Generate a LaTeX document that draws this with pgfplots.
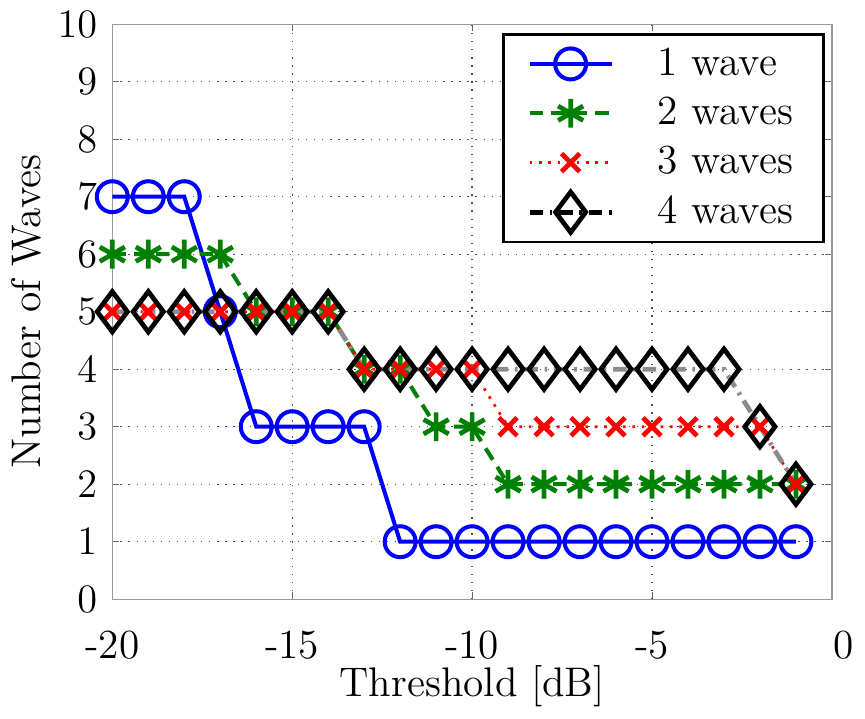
\documentclass[border=0pt]{standalone}
\usepackage{pgfplots}
\pgfplotsset{compat=1.18}
\definecolor{mygreen}{rgb}{0,0.5,0}
\begin{document}
\begin{tikzpicture}
\begin{axis}[
  scale only axis,
  width=214pt, height=171pt,
  xmin=-20, xmax=0, ymin=0, ymax=10,
  xtick={-20,-15,-10,-5,0},
  xticklabels={-20,-15,-10,-5,\hspace*{7pt}0},
  ytick={0,1,...,10},
  xlabel={Threshold [dB]},
  ylabel={Number of Waves},
  tick label style={font=\fontsize{12.3}{14.8}\selectfont},
  xticklabel style={yshift=-6pt},
  yticklabel style={xshift=-1pt},
  label style={font=\fontsize{12.3}{14.8}\selectfont},
  xlabel style={yshift=5pt},
  ylabel style={yshift=-2pt},
  tick align=inside,
  major tick length=2pt,
  axis line style={black!40},
  tick style={black!60},
  grid=major,
  major grid style={dotted, black!70},
  legend cell align=left,
  legend style={at={(rel axis cs:0.99,0.985)}, anchor=north east, draw=black, thick,
    font=\fontsize{12.3}{14.8}\selectfont, row sep=1pt, inner xsep=7pt, inner ysep=2pt},
  legend image code/.code={\draw[mark repeat=2,mark phase=2] plot coordinates {(0cm,0cm)(0.43cm,0cm)(0.86cm,0cm)};},
]
\addplot[blue, line width=1.2pt, mark=o, mark size=4.6pt, mark options={solid, line width=1.2pt}] coordinates {
(-20,7)(-19,7)(-18,7)(-17,5)(-16,3)(-15,3)(-14,3)(-13,3)(-12,1)(-11,1)(-10,1)(-9,1)(-8,1)(-7,1)(-6,1)(-5,1)(-4,1)(-3,1)(-2,1)(-1,1)};
\addlegendentry{\hspace{11pt}1 wave\hspace{9pt}}
\addplot[mygreen, line width=1.2pt, dash pattern=on 4pt off 2.5pt, mark=asterisk, mark size=4.3pt, mark options={solid, line width=1.4pt}] coordinates {
(-20,6)(-19,6)(-18,6)(-17,6)(-16,5)(-15,5)(-14,5)(-13,4)(-12,4)(-11,3)(-10,3)(-9,2)(-8,2)(-7,2)(-6,2)(-5,2)(-4,2)(-3,2)(-2,2)(-1,2)};
\addlegendentry{\hspace{11pt}2 waves\hspace{9pt}}
\addplot[red, line width=0.8pt, dotted, mark=x, mark size=3.8pt, mark options={solid, line width=1.4pt}] coordinates {
(-20,5)(-19,5)(-18,5)(-17,5)(-16,5)(-15,5)(-14,5)(-13,4)(-12,4)(-11,4)(-10,4)(-9,3)(-8,3)(-7,3)(-6,3)(-5,3)(-4,3)(-3,3)(-2,3)(-1,2)};
\addlegendentry{\hspace{11pt}3 waves\hspace{9pt}}
\addplot[black!45, line width=1.4pt, dash pattern=on 4pt off 2pt on 0.8pt off 2pt, mark=diamond, mark size=6pt, mark options={solid, black, line width=1.4pt}, forget plot] coordinates {
(-20,5)(-19,5)(-18,5)(-17,5)(-16,5)(-15,5)(-14,5)(-13,4)(-12,4)(-11,4)(-10,4)(-9,4)(-8,4)(-7,4)(-6,4)(-5,4)(-4,4)(-3,4)(-2,3)(-1,2)};
\addlegendimage{black, line width=1.4pt, dash pattern=on 4pt off 2pt on 0.8pt off 2pt, mark=diamond, mark size=6pt, mark options={solid, black, line width=1.4pt}}
\addlegendentry{\hspace{11pt}4 waves\hspace{9pt}}
\end{axis}
\end{tikzpicture}
\end{document}
